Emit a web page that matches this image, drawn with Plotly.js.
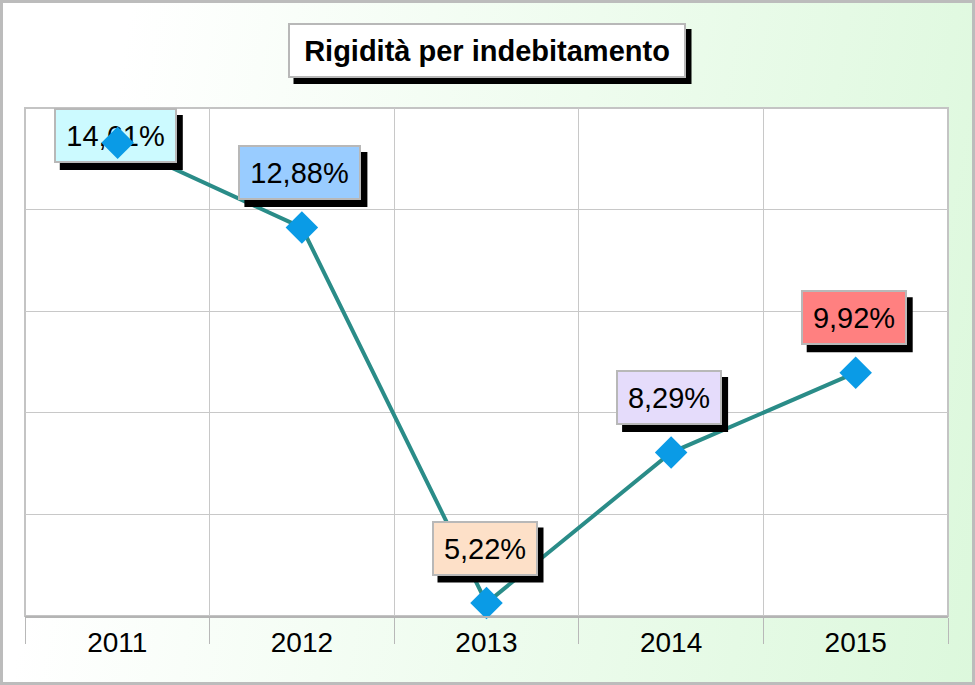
<!DOCTYPE html>
<html>
<head>
<meta charset="utf-8">
<script src="https://cdn.plot.ly/plotly-3.0.1.min.js"></script>
<style>
  html, body { margin: 0; padding: 0; }
  #wrap {
    position: relative;
    width: 975px;
    height: 685px;
    background: linear-gradient(100deg, #ffffff 12%, #eefcee 55%, #dcf8dc 100%);
  }
  #chart { position: absolute; left: 0; top: 0; width: 975px; height: 685px; }
  #frame {
    position: absolute; left: 0; top: 0; width: 975px; height: 685px;
    box-sizing: border-box; border: 3px solid #bcbcbc; pointer-events: none;
  }
</style>
</head>
<body>
<div id="wrap">
  <div id="chart"></div>
  <div id="frame"></div>
</div>
<script>
// --- data ---
const years = ['2011', '2012', '2013', '2014', '2015'];
const values = [14.61, 12.88, 5.22, 8.29, 9.92];
const labelColors = ['#ccfaff', '#99ccff', '#fde0c8', '#e5dcfb', '#ff8080'];
const chartTitle = 'Rigidità per indebitamento';

// value axis (no labels shown, only grid)
const yMin = 4.955;
const yMax = 15.32;
const yStep = (yMax - yMin) / 5;

const FONT = "'Liberation Sans', Arial, sans-serif";
const M = { l: 25, r: 27, t: 108, b: 69 };
const plotH = 685 - M.t - M.b;

const LINE_COLOR = '#2a8c88';
const MARKER_COLOR = '#0a9be6';
const MARKER_SIZE = 25;
const markerHalf = MARKER_SIZE * 1.3 / 2;

const fmt = v => v.toFixed(2).replace('.', ',') + '%';

const labelFs = 29;
const pad = 10;
const bw = 2;
const boxH = 31 + 2 * pad + 2 * bw;
const lift = 55;
const shadowDx = 6, shadowDy = 7;

const annotations = [];
const shapes = [];
const markerOverlays = [];

values.forEach((v, i) => {
  const text = fmt(v);
  const w = 17 * text.length - 3;
  const boxW = w + 2 * pad + 2 * bw;
  // keep label box inside the plot area (clamp at the top)
  const yPx = M.t + (yMax - v) / (yMax - yMin) * plotH;
  const shift = Math.min(lift, yPx - M.t - boxH / 2);
  const dx = -2;

  // category position = index i
  shapes.push({
    type: 'rect', layer: 'above',
    xref: 'x', yref: 'y', xsizemode: 'pixel', ysizemode: 'pixel',
    xanchor: i, yanchor: v,
    x0: dx - boxW / 2 + shadowDx, x1: dx + boxW / 2 + shadowDx,
    y0: shift - boxH / 2 - shadowDy, y1: shift + boxH / 2 - shadowDy,
    fillcolor: '#000000', line: { width: 0 },
  });

  annotations.push({
    x: i, y: v, xref: 'x', yref: 'y',
    xanchor: 'center', yanchor: 'middle',
    text, showarrow: false,
    xshift: dx, yshift: shift,
    width: w, height: 31,
    bgcolor: labelColors[i], bordercolor: '#b8b8b8', borderwidth: bw, borderpad: pad,
    font: { family: FONT, size: labelFs, color: '#000000' },
  });

  // marker sits on top of its label when the label got pushed onto it
  if (shift < boxH / 2 + markerHalf) {
    const side = MARKER_SIZE * 1.3 / Math.SQRT2;
    markerOverlays.push({
      x: i, y: v, xref: 'x', yref: 'y',
      xanchor: 'center', yanchor: 'middle',
      text: ' ', showarrow: false, textangle: 45,
      width: side, height: side,
      bgcolor: MARKER_COLOR, borderwidth: 0, borderpad: 0,
      font: { family: FONT, size: 10, color: MARKER_COLOR },
    });
  }
});
annotations.push(...markerOverlays);

// title box + shadow
const titleY = 1.113;
const titleW = 398, titleH = 55;
shapes.push({
  type: 'rect', layer: 'above',
  xref: 'paper', yref: 'paper', xsizemode: 'pixel', ysizemode: 'pixel',
  xanchor: 0.5, yanchor: titleY,
  x0: -titleW / 2 + 6, x1: titleW / 2 + 6,
  y0: -titleH / 2 - 6, y1: titleH / 2 - 6,
  fillcolor: '#000000', line: { width: 0 },
});
annotations.push({
  x: 0.5, y: titleY, xref: 'paper', yref: 'paper',
  xanchor: 'center', yanchor: 'middle',
  text: '<b>' + chartTitle + '</b>', showarrow: false,
  width: titleW - 16, height: titleH - 16,
  bgcolor: '#ffffff', bordercolor: '#b8b8b8', borderwidth: 2, borderpad: 6,
  font: { family: FONT, size: 29, color: '#000000' },
});

// plot area border
shapes.push({
  type: 'rect', layer: 'below', xref: 'paper', yref: 'paper',
  x0: 0, x1: 1, y0: 0, y1: 1, line: { color: '#c4c4c4', width: 2 },
});

const trace = {
  x: years,
  y: values,
  type: 'scatter',
  mode: 'lines+markers',
  line: { color: LINE_COLOR, width: 4 },
  marker: { symbol: 'diamond', size: MARKER_SIZE, color: MARKER_COLOR, line: { width: 0 } },
  hoverinfo: 'skip',
  cliponaxis: false,
};

const layout = {
  width: 975,
  height: 685,
  margin: M,
  paper_bgcolor: 'rgba(0,0,0,0)',
  plot_bgcolor: '#ffffff',
  showlegend: false,
  font: { family: FONT, color: '#000000' },
  xaxis: {
    type: 'category',
    categoryorder: 'array', categoryarray: years,
    range: [-0.5, years.length - 0.5],
    tickson: 'boundaries',
    ticks: 'outside', ticklen: 26, tickwidth: 1, tickcolor: '#b8b8b8',
    showgrid: true, gridcolor: '#c8c8c8', gridwidth: 1,
    showline: true, linecolor: '#b4b4b4', linewidth: 2,
    tickangle: 0,
    tickfont: { family: FONT, size: 28, color: '#000000' },
    fixedrange: true,
  },
  yaxis: {
    range: [yMin, yMax],
    tick0: yMin, dtick: yStep,
    showticklabels: false, ticks: '',
    showgrid: true, gridcolor: '#c8c8c8', gridwidth: 1,
    zeroline: false, showline: false,
    fixedrange: true,
  },
  shapes,
  annotations,
};

Plotly.newPlot('chart', [trace], layout, { displayModeBar: false, staticPlot: true });
</script>
</body>
</html>
